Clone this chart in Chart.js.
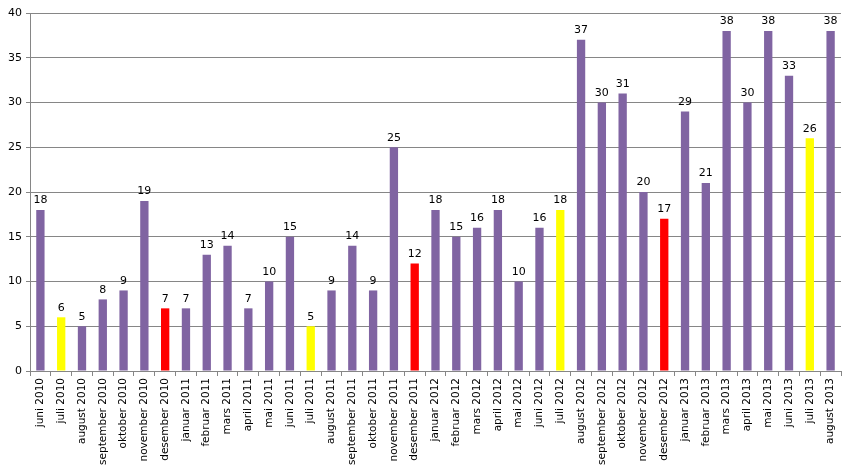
<!DOCTYPE html>
<html>
<head>
<meta charset="utf-8">
<script src="https://cdn.jsdelivr.net/npm/chart.js@4"></script>
<style>
  html, body { margin: 0; padding: 0; background: #fff; }
  #wrap { width: 853px; height: 475px; }
</style>
</head>
<body>
<div id="wrap"><canvas id="myChart" width="853" height="475"></canvas></div>
<script>
const months = [
  'juni 2010', 'juli 2010', 'august 2010', 'september 2010', 'oktober 2010', 'november 2010', 'desember 2010',
  'januar 2011', 'februar 2011', 'mars 2011', 'april 2011', 'mai 2011', 'juni 2011', 'juli 2011',
  'august 2011', 'september 2011', 'oktober 2011', 'november 2011', 'desember 2011',
  'januar 2012', 'februar 2012', 'mars 2012', 'april 2012', 'mai 2012', 'juni 2012', 'juli 2012',
  'august 2012', 'september 2012', 'oktober 2012', 'november 2012', 'desember 2012',
  'januar 2013', 'februar 2013', 'mars 2013', 'april 2013', 'mai 2013', 'juni 2013', 'juli 2013',
  'august 2013'
]
const counts = [
  18, 6, 5, 8, 9, 19, 7,
  7, 13, 14, 7, 10, 15, 5,
  9, 14, 9, 25, 12,
  18, 15, 16, 18, 10, 16, 18,
  37, 30, 31, 20, 17,
  29, 21, 38, 30, 38, 33, 26,
  38
]
const yTicks = [0, 5, 10, 15, 20, 25, 30, 35, 40]

const PURPLE = '#8064A2'
const barColors = months.map(m => {
  if (m.startsWith('juli')) return '#FFFF00'
  if (m.startsWith('desember')) return '#FF0000'
  return PURPLE
})

// value labels above each bar
const valueLabels = {
  id: 'valueLabels',
  afterDatasetsDraw(chart) {
    const { ctx } = chart
    const meta = chart.getDatasetMeta(0)
    ctx.save()
    ctx.font = '11px "DejaVu Sans"'
    ctx.fillStyle = '#000'
    ctx.textAlign = 'center'
    ctx.textBaseline = 'bottom'
    meta.data.forEach((bar, i) => {
      ctx.fillText(String(counts[i]), bar.x, bar.y - 4)
    })
    ctx.restore()
  }
}

const ctx = document.getElementById('myChart')
new Chart(ctx, {
  type: 'bar',
  data: {
    labels: months,
    datasets: [{
      data: counts,
      backgroundColor: barColors,
      borderWidth: 0,
      categoryPercentage: 1,
      barPercentage: 0.4
    }]
  },
  options: {
    responsive: false,
    animation: false,
    layout: { padding: { left: 0, right: 12, top: 13, bottom: 0 } },
    plugins: {
      legend: { display: false },
      tooltip: { enabled: false }
    },
    scales: {
      x: {
        grid: {
          display: true,
          drawOnChartArea: false,
          color: '#868686',
          tickLength: 5,
          offset: true
        },
        border: { color: '#868686', width: 1 },
        ticks: {
          autoSkip: false,
          minRotation: 90,
          maxRotation: 90,
          padding: 2,
          color: '#000',
          font: { family: 'DejaVu Sans', size: 10.5 }
        },
        afterFit(scale) { scale.height = 104 }
      },
      y: {
        min: 0,
        max: 40,
        afterBuildTicks(scale) { scale.ticks = yTicks.map(v => ({ value: v })) },
        grid: { color: '#868686', tickLength: 4 },
        border: { color: '#868686', width: 1 },
        ticks: {
          padding: 4,
          color: '#000',
          font: { family: 'DejaVu Sans', size: 11 }
        },
        afterFit(scale) { scale.width = 30 }
      }
    }
  },
  plugins: [valueLabels]
})
</script>
</body>
</html>
